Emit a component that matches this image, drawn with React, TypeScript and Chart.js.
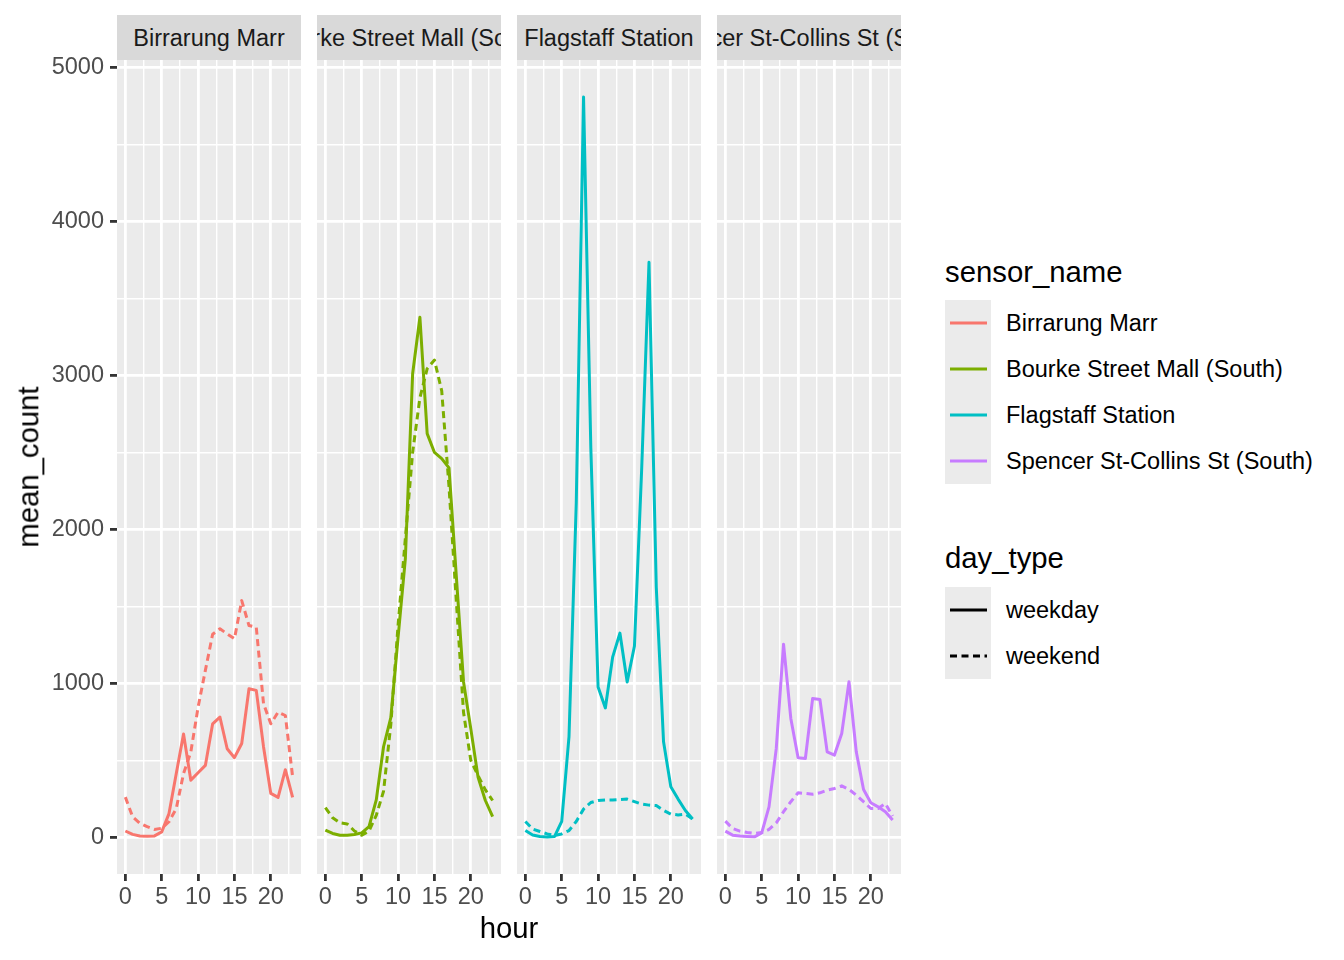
import { useEffect, useRef } from 'react'
import { Chart, registerables, ChartConfiguration, Plugin } from 'chart.js'

Chart.register(...registerables)

// data (mean pedestrian count per hour)
const HOURS = [0, 1, 2, 3, 4, 5, 6, 7, 8, 9, 10, 11, 12, 13, 14, 15, 16, 17, 18, 19, 20, 21, 22, 23]
const X_TICKS = [0, 2.5, 5, 7.5, 10, 12.5, 15, 17.5, 20, 22.5]
const Y_TICKS = [0, 500, 1000, 1500, 2000, 2500, 3000, 3500, 4000, 4500, 5000]

const SENSORS = ['Birrarung Marr', 'Bourke Street Mall (South)', 'Flagstaff Station', 'Spencer St-Collins St (South)']
const SENSOR_COLOURS = ['#F8766D', '#7CAE00', '#00BFC4', '#C77CFF']
const DAY_TYPES = ['weekday', 'weekend']

const birrarungWeekday = [42, 20, 10, 8, 10, 36, 155, 415, 672, 372, 420, 468, 738, 782, 576, 518, 610, 966, 955, 588, 286, 260, 440, 260]
const birrarungWeekend = [262, 134, 92, 70, 52, 60, 102, 188, 415, 555, 846, 1085, 1320, 1355, 1322, 1290, 1538, 1376, 1365, 868, 738, 814, 792, 394]

const bourkeWeekday = [47, 26, 14, 14, 19, 30, 70, 244, 589, 778, 1300, 1811, 3011, 3378, 2622, 2500, 2460, 2400, 1700, 1010, 705, 390, 240, 135]
const bourkeWeekend = [193, 128, 95, 88, 42, 14, 42, 144, 300, 733, 1380, 1944, 2500, 2855, 3044, 3100, 2900, 2278, 1540, 811, 500, 402, 309, 240]

const flagstaffWeekday = [45, 16, 6, 3, 6, 104, 654, 2175, 4808, 2531, 977, 841, 1171, 1327, 1010, 1243, 2401, 3735, 1625, 621, 330, 249, 175, 120]
const flagstaffWeekend = [104, 55, 39, 23, 13, 23, 45, 104, 184, 227, 240, 243, 243, 246, 249, 233, 217, 210, 207, 175, 152, 146, 152, 120]

const spencerWeekday = [41, 15, 9, 6, 4, 30, 199, 578, 1255, 773, 517, 513, 903, 896, 556, 535, 675, 1011, 556, 312, 225, 199, 167, 113]
const spencerWeekend = [106, 58, 41, 32, 26, 32, 52, 95, 167, 232, 290, 286, 281, 290, 307, 318, 335, 312, 275, 232, 188, 188, 221, 139]

const WEEKDAY = [birrarungWeekday, bourkeWeekday, flagstaffWeekday, spencerWeekday]
const WEEKEND = [birrarungWeekend, bourkeWeekend, flagstaffWeekend, spencerWeekend]

const FONT = '"Liberation Sans", Arial, Helvetica, sans-serif'
const PANEL_BG = '#EBEBEB'
const PANEL_W = 184
const PANEL_GAP = 16
const PANEL_LEFT = 117
const PLOT_TOP = 60
const PLOT_H = 814
const TOP_PAD = 20
const X_AXIS_H = 46
const Y_AXIS_W = 77
const LINE_W = 3
const DASH = [7, 4.5]

// shared y range like facet_wrap, with ggplot's 5% expansion
const allValues = [...WEEKDAY.flat(), ...WEEKEND.flat()]
const yLo = Math.min(...allValues)
const yHi = Math.max(...allValues)
const Y_MIN = yLo - 0.05 * (yHi - yLo)
const Y_MAX = yHi + 0.05 * (yHi - yLo)
const X_MIN = HOURS[0] - 0.05 * (HOURS[HOURS.length - 1] - HOURS[0])
const X_MAX = HOURS[HOURS.length - 1] + 0.05 * (HOURS[HOURS.length - 1] - HOURS[0])

const panelBackground: Plugin = {
  id: 'panelBackground',
  beforeDraw(chart) {
    const { ctx, chartArea } = chart
    ctx.save()
    ctx.fillStyle = PANEL_BG
    ctx.fillRect(chartArea.left, chartArea.top, chartArea.right - chartArea.left, chartArea.bottom - chartArea.top)
    ctx.restore()
  },
}

interface PanelProps {
  index: number
  showYAxis: boolean
}

function Panel({ index, showYAxis }: PanelProps) {
  const canvasRef = useRef<HTMLCanvasElement>(null)
  const chartRef = useRef<Chart>()

  const yAxisW = showYAxis ? Y_AXIS_W : 0
  const left = PANEL_LEFT + index * (PANEL_W + PANEL_GAP) - yAxisW
  const width = PANEL_W + yAxisW
  const height = TOP_PAD + PLOT_H + X_AXIS_H

  useEffect(() => {
    if (!canvasRef.current) return
    const ctx = canvasRef.current.getContext('2d')
    if (!ctx) return

    const colour = SENSOR_COLOURS[index]
    const isMajorX = (v: number) => v % 5 === 0
    const isMajorY = (v: number) => v % 1000 === 0

    const config: ChartConfiguration<'line'> = {
      type: 'line',
      data: {
        datasets: [
          {
            label: DAY_TYPES[0],
            data: HOURS.map((h, i) => ({ x: h, y: WEEKDAY[index][i] })),
            borderColor: colour,
            borderWidth: LINE_W,
            borderJoinStyle: 'round',
            pointRadius: 0,
            tension: 0,
          },
          {
            label: DAY_TYPES[1],
            data: HOURS.map((h, i) => ({ x: h, y: WEEKEND[index][i] })),
            borderColor: colour,
            borderWidth: LINE_W,
            borderDash: DASH,
            borderJoinStyle: 'round',
            pointRadius: 0,
            tension: 0,
          },
        ],
      },
      options: {
        responsive: false,
        animation: false,
        events: [],
        layout: { padding: { top: TOP_PAD, left: 0, right: 0, bottom: 0 }, autoPadding: false },
        plugins: {
          legend: { display: false },
          tooltip: { enabled: false },
        },
        scales: {
          x: {
            type: 'linear',
            min: X_MIN,
            max: X_MAX,
            afterBuildTicks: (scale) => {
              scale.ticks = X_TICKS.map((value) => ({ value }))
            },
            afterFit: (scale) => {
              scale.height = X_AXIS_H
              scale.paddingLeft = 0
              scale.paddingRight = 0
            },
            border: { display: false },
            grid: {
              color: '#FFFFFF',
              lineWidth: (c) => (isMajorX(c.tick.value) ? 2.8 : 1.4),
              drawTicks: true,
              tickLength: 7,
              tickWidth: 2.8,
              tickColor: (c) => (isMajorX(c.tick.value) ? '#333333' : 'rgba(0,0,0,0)'),
            },
            ticks: {
              autoSkip: false,
              maxRotation: 0,
              padding: 2,
              color: '#4D4D4D',
              font: { family: FONT, size: 23.5 },
              callback: (v) => (isMajorX(Number(v)) ? String(v) : ''),
            },
          },
          y: {
            type: 'linear',
            min: Y_MIN,
            max: Y_MAX,
            afterBuildTicks: (scale) => {
              scale.ticks = Y_TICKS.map((value) => ({ value }))
            },
            afterFit: (scale) => {
              scale.width = yAxisW
              scale.paddingTop = 0
              scale.paddingBottom = 0
            },
            border: { display: false },
            grid: {
              color: '#FFFFFF',
              lineWidth: (c) => (isMajorY(c.tick.value) ? 2.8 : 1.4),
              drawTicks: showYAxis,
              tickLength: 7,
              tickWidth: 2.8,
              tickColor: (c) => (isMajorY(c.tick.value) ? '#333333' : 'rgba(0,0,0,0)'),
            },
            ticks: {
              display: showYAxis,
              autoSkip: false,
              padding: 6,
              color: '#4D4D4D',
              font: { family: FONT, size: 23.5 },
              callback: (v) => (isMajorY(Number(v)) ? String(v) : ''),
            },
          },
        },
      },
      plugins: [panelBackground],
    }

    if (chartRef.current) chartRef.current.destroy()
    chartRef.current = new Chart(ctx, config)

    return () => {
      if (chartRef.current) {
        chartRef.current.destroy()
        chartRef.current = undefined
      }
    }
  }, [index, showYAxis, yAxisW])

  const stripLeft = PANEL_LEFT + index * (PANEL_W + PANEL_GAP)

  return (
    <>
      <canvas
        ref={canvasRef}
        width={width}
        height={height}
        style={{ position: 'absolute', left, top: PLOT_TOP - TOP_PAD, width, height }}
      />
      <div
        style={{
          position: 'absolute',
          left: stripLeft,
          top: 15,
          width: PANEL_W,
          height: 45,
          background: '#D9D9D9',
          display: 'flex',
          justifyContent: 'center',
          alignItems: 'center',
          overflow: 'hidden',
          whiteSpace: 'nowrap',
          fontSize: 23.5,
          color: '#1A1A1A',
        }}
      >
        <span style={{ flexShrink: 0, position: 'relative', top: 1 }}>{SENSORS[index]}</span>
      </div>
    </>
  )
}

function KeyLine({ colour, dashed }: { colour: string; dashed?: boolean }) {
  return (
    <svg width={46} height={46} style={{ display: 'block' }}>
      <line
        x1={5}
        x2={42}
        y1={23}
        y2={23}
        stroke={colour}
        strokeWidth={2.8}
        strokeDasharray={dashed ? DASH.join(' ') : undefined}
      />
    </svg>
  )
}

function LegendRow({ label, children }: { label: string; children: React.ReactNode }) {
  return (
    <div style={{ display: 'flex', alignItems: 'center', height: 46 }}>
      <div style={{ width: 46, height: 46, background: PANEL_BG }}>{children}</div>
      <div style={{ marginLeft: 15, fontSize: 23.5, color: '#000000', whiteSpace: 'nowrap' }}>{label}</div>
    </div>
  )
}

export default function App() {
  return (
    <div
      style={{
        position: 'absolute',
        left: 0,
        top: 0,
        width: 1344,
        height: 960,
        background: '#FFFFFF',
        fontFamily: FONT,
        overflow: 'hidden',
      }}
    >
      {SENSORS.map((_, i) => (
        <Panel key={i} index={i} showYAxis={i === 0} />
      ))}

      <div
        style={{
          position: 'absolute',
          left: PANEL_LEFT,
          width: 4 * PANEL_W + 3 * PANEL_GAP,
          top: 913,
          textAlign: 'center',
          fontSize: 29.3,
          lineHeight: '29.3px',
          color: '#000000',
        }}
      >
        hour
      </div>
      <div
        style={{
          position: 'absolute',
          left: 28,
          top: PLOT_TOP + PLOT_H / 2,
          transform: 'translate(-50%, -50%) rotate(-90deg)',
          fontSize: 29.3,
          lineHeight: '29.3px',
          color: '#000000',
          whiteSpace: 'nowrap',
        }}
      >
        mean_count
      </div>

      <div style={{ position: 'absolute', left: 945, top: 257, fontSize: 29.3, lineHeight: '29.3px' }}>sensor_name</div>
      <div style={{ position: 'absolute', left: 945, top: 300 }}>
        {SENSORS.map((s, i) => (
          <LegendRow key={s} label={s}>
            <KeyLine colour={SENSOR_COLOURS[i]} />
          </LegendRow>
        ))}
      </div>

      <div style={{ position: 'absolute', left: 945, top: 543, fontSize: 29.3, lineHeight: '29.3px' }}>day_type</div>
      <div style={{ position: 'absolute', left: 945, top: 587 }}>
        {DAY_TYPES.map((d, i) => (
          <LegendRow key={d} label={d}>
            <KeyLine colour="#000000" dashed={i === 1} />
          </LegendRow>
        ))}
      </div>
    </div>
  )
}
